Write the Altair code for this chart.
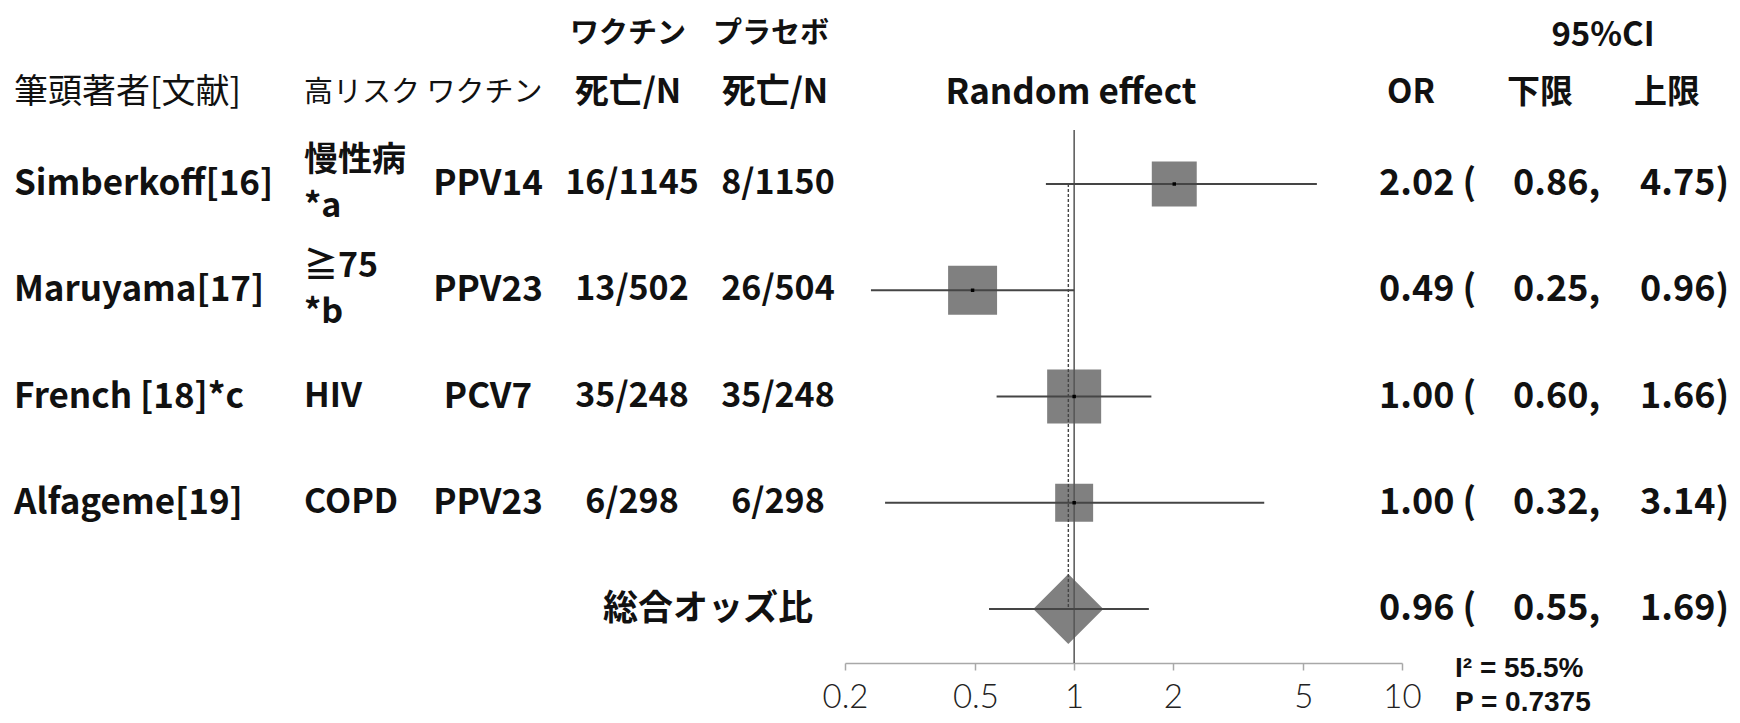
import altair as alt
import pandas as pd

# ---------------- data ----------------
rows = [1, 2, 3, 4]
studies = ["Simberkoff[16]", "Maruyama[17]", "French [18]*c", "Alfageme[19]"]
risk = ["慢性病\n*a", "≧75\n*b", "HIV", "COPD"]
vaccine = ["PPV14", "PPV23", "PCV7", "PPV23"]
vac_deaths = ["16/1145", "13/502", "35/248", "6/298"]
pla_deaths = ["8/1150", "26/504", "35/248", "6/298"]
or_vals = [2.02, 0.49, 1.00, 1.00]
ci_lo_txt = [0.86, 0.25, 0.60, 0.32]
ci_hi_txt = [4.75, 0.96, 1.66, 3.14]
ci_lo_drawn = [0.82, 0.24, 0.58, 0.265]
ci_hi_drawn = [5.5, 1.0, 1.72, 3.8]
weights = [23.0, 27.3, 33.2, 16.4]

pooled_row = [5]
pooled_or = [0.96]
pooled_lo = [0.55]
pooled_hi = [1.69]
heterogeneity = ["I² = 55.5%", "P = 0.7375"]
tick_values = [0.2, 0.5, 1, 2, 5, 10]

FONT = "Noto Sans CJK JP"
INK = "#111111"

df = pd.DataFrame({
    "row": rows, "study": studies, "risk": risk, "vaccine": vaccine,
    "vd": vac_deaths, "pd": pla_deaths, "or": or_vals,
    "lo": ci_lo_drawn, "hi": ci_hi_drawn, "w": weights,
    "or_t": [f"{v:.2f} (" for v in or_vals],
    "lo_t": [f"{v:.2f}," for v in ci_lo_txt],
    "hi_t": [f"{v:.2f})" for v in ci_hi_txt],
})
pdf = pd.DataFrame({
    "row": pooled_row, "or": pooled_or, "lo": pooled_lo, "hi": pooled_hi,
    "or_t": [f"{v:.2f} (" for v in pooled_or],
    "lo_t": [f"{v:.2f}," for v in pooled_lo],
    "hi_t": [f"{v:.2f})" for v in pooled_hi],
    "label": ["総合オッズ比"],
})

xscale = alt.Scale(type="log", domain=[0.2, 10], range=[837, 1394], nice=False)
yscale = alt.Scale(domain=[1, 5], range=[176, 601], nice=False, zero=False)
X_AXIS = alt.Axis(values=tick_values, format=".1~f", title=None, grid=False,
                  domainColor="#a8a8a8", domainWidth=1.5, tickColor="#a8a8a8",
                  tickWidth=1.5, tickSize=7, labelFontSize=33, labelFont="Lato",
                  labelFontWeight=300, labelColor="#222222", labelPadding=11,
                  labelFlush=False, labelOverlap=False)
Y = alt.Y("row:Q", scale=yscale, axis=None)

base = alt.Chart(df)
pbase = alt.Chart(pdf)

squares = base.mark_point(shape="square", filled=True, color="#808080", opacity=1).encode(
    x=alt.X("or:Q", scale=xscale, axis=X_AXIS), y=Y,
    size=alt.Size("w:Q", scale=alt.Scale(domain=[0, 100], range=[0, 8786]), legend=None))
diamond = pbase.mark_point(shape="diamond", filled=True, color="#808080", opacity=1, size=4900).encode(
    x=alt.X("or:Q", scale=xscale), y=Y)

null_line = alt.Chart(pd.DataFrame({"v": [1]})).mark_rule(color="#555555", strokeWidth=1.5).encode(
    x=alt.X("v:Q", scale=xscale), y=alt.value(122), y2=alt.value(655))
pooled_line = alt.Chart(pd.DataFrame({"v": pooled_or, "a": [1], "b": pooled_row})).mark_rule(
    color="#444444", strokeWidth=1.4, strokeDash=[3, 2]).encode(
    x=alt.X("v:Q", scale=xscale), y=alt.Y("a:Q", scale=yscale, axis=None), y2="b:Q")

ci = base.mark_rule(color="#454545", strokeWidth=2).encode(
    x=alt.X("lo:Q", scale=xscale), x2="hi:Q", y=Y)
pci = pbase.mark_rule(color="#454545", strokeWidth=2).encode(
    x=alt.X("lo:Q", scale=xscale), x2="hi:Q", y=Y)
dots = base.mark_point(shape="square", filled=True, color="#000000", opacity=1, size=12).encode(
    x=alt.X("or:Q", scale=xscale), y=Y)


def col(chart, field, x, size=34, weight="bold", align="left", **kw):
    return chart.mark_text(align=align, baseline="middle", font=FONT, fontSize=size,
                           fontWeight=weight, color=INK, **kw).encode(
        text=f"{field}:N", x=alt.value(x), y=Y)


def label(txt, x, y, size=31, weight="normal", align="left", font=FONT):
    return alt.Chart(pd.DataFrame({"t": [txt]})).mark_text(
        align=align, baseline="middle", font=font, fontSize=size, fontWeight=weight,
        color=INK).encode(text="t:N", x=alt.value(x), y=alt.value(y))


multi = "indexof(datum.risk, '\\n') >= 0"
single = "indexof(datum.risk, '\\n') < 0"

texts = [
    col(base, "study", 6, size=35),
    col(base.transform_filter(multi), "risk", 296, lineBreak="\n", lineHeight=46, dy=-23),
    col(base.transform_filter(single), "risk", 296),
    col(base, "vaccine", 480, size=35, align="center"),
    col(base, "vd", 624, align="center"),
    col(base, "pd", 770, align="center"),
    col(base, "or_t", 1371, size=36),
    col(base, "lo_t", 1505, size=36),
    col(base, "hi_t", 1632, size=36),
    col(pbase, "label", 700, size=35, align="center"),
    col(pbase, "or_t", 1371, size=36),
    col(pbase, "lo_t", 1505, size=36),
    col(pbase, "hi_t", 1632, size=36),
    label("ワクチン", 620, 26, size=29, weight="bold", align="center"),
    label("プラセボ", 763, 26, size=29, weight="bold", align="center"),
    label("95%CI", 1595, 28, size=33, weight="bold", align="center"),
    label("筆頭著者[文献]", 6, 85, size=34),
    label("高リスク ワクチン", 296, 85, size=29),
    label("死亡/N", 620, 85, size=34, weight="bold", align="center"),
    label("死亡/N", 767, 85, size=34, weight="bold", align="center"),
    label("Random effect", 1063, 85, size=35, weight="bold", align="center"),
    label("OR", 1403, 85, size=33, weight="bold", align="center"),
    label("下限", 1532, 85, size=33, weight="bold", align="center"),
    label("上限", 1659, 85, size=33, weight="bold", align="center"),
    label(heterogeneity[0], 1447, 661, size=28, weight="bold", font="Liberation Sans"),
    label(heterogeneity[1], 1447, 695, size=28, weight="bold", font="Liberation Sans"),
]

chart = alt.layer(squares, diamond, null_line, pooled_line, ci, pci, dots, *texts).properties(
    width=1724, height=655, background="white",
    padding={"left": 0, "top": 0, "right": 0, "bottom": 14}
).configure_view(stroke=None, strokeWidth=0)

chart.save("out.html", embed_options={"renderer": "svg", "actions": False})
